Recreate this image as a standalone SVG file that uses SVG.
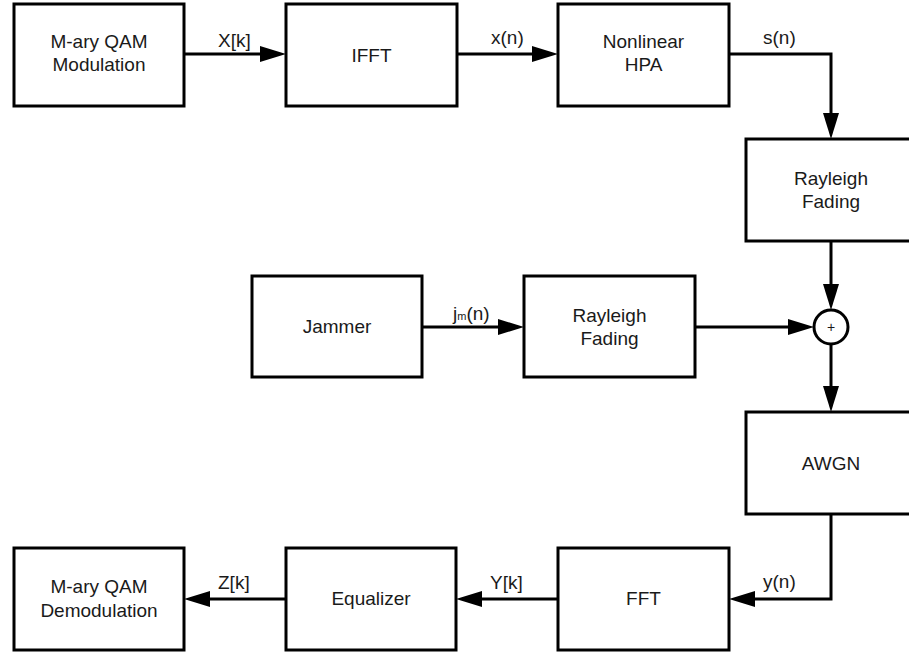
<svg xmlns="http://www.w3.org/2000/svg" width="909" height="655" viewBox="0 0 909 655">
  <defs>
    <marker id="arrow" markerUnits="userSpaceOnUse" markerWidth="26" markerHeight="16" refX="0" refY="8" orient="auto" overflow="visible">
      <path d="M0,0 L26,8 L0,16 Z" fill="#000"/>
    </marker>
    <style>
      .box { fill: #fff; stroke: #000; stroke-width: 3; }
      .t { font-family: "Liberation Sans", Arial, sans-serif; font-size: 19px; fill: #1a1a1a; text-anchor: middle; }
      .lbl { font-family: "Liberation Sans", Arial, sans-serif; font-size: 19px; fill: #1a1a1a; }
      .c { fill: none; stroke: #000; stroke-width: 3; stroke-linejoin: miter; marker-end: url(#arrow); }
    </style>
  </defs>
  <rect width="909" height="655" fill="#fff"/>

  <g id="connectors">
    <path class="c" d="M184,54 H260"/>
    <path class="c" d="M457,54 H532"/>
    <path class="c" d="M729,54 H831 V113"/>
    <path class="c" d="M831,241 V284"/>
    <path class="c" d="M422,327 H498"/>
    <path class="c" d="M695,327 H788"/>
    <path class="c" d="M831,344 V386"/>
    <path class="c" d="M831,514 V599 H755"/>
    <path class="c" d="M558,599 H482"/>
    <path class="c" d="M286,599 H210"/>
    <text class="lbl" x="218" y="47">X[k]</text>
    <text class="lbl" x="491" y="44">x(n)</text>
    <text class="lbl" x="763" y="44">s(n)</text>
    <text class="lbl" x="453" y="320">j<tspan font-size="11">m</tspan>(n)</text>
    <text class="lbl" x="218" y="589">Z[k]</text>
    <text class="lbl" x="490" y="589">Y[k]</text>
    <text class="lbl" x="763" y="588">y(n)</text>
  </g>

  <g id="mod">
    <rect class="box" x="14" y="4" width="170" height="102"/>
    <text class="t" x="99" y="48">M-ary QAM</text>
    <text class="t" x="99" y="71">Modulation</text>
  </g>
  <g id="ifft">
    <rect class="box" x="286" y="4" width="171" height="102"/>
    <text class="t" x="371.5" y="62">IFFT</text>
  </g>
  <g id="hpa">
    <rect class="box" x="558" y="4" width="171" height="102"/>
    <text class="t" x="643.5" y="48">Nonlinear</text>
    <text class="t" x="643.5" y="71">HPA</text>
  </g>
  <g id="rayleigh1">
    <rect class="box" x="746" y="139" width="170" height="102"/>
    <text class="t" x="831" y="185">Rayleigh</text>
    <text class="t" x="831" y="208">Fading</text>
  </g>
  <g id="jammer">
    <rect class="box" x="252" y="276" width="170" height="101"/>
    <text class="t" x="337" y="333">Jammer</text>
  </g>
  <g id="rayleigh2">
    <rect class="box" x="524" y="276" width="171" height="101"/>
    <text class="t" x="609.5" y="322">Rayleigh</text>
    <text class="t" x="609.5" y="345">Fading</text>
  </g>
  <g id="sum">
    <circle cx="831" cy="327" r="17" fill="#fff" stroke="#000" stroke-width="3"/>
    <text x="831" y="332" font-family="'Liberation Sans', Arial, sans-serif" font-size="14" fill="#1a1a1a" text-anchor="middle">+</text>
  </g>
  <g id="awgn">
    <rect class="box" x="746" y="412" width="170" height="102"/>
    <text class="t" x="831" y="470">AWGN</text>
  </g>
  <g id="fft">
    <rect class="box" x="558" y="548" width="171" height="102"/>
    <text class="t" x="643.5" y="605">FFT</text>
  </g>
  <g id="equalizer">
    <rect class="box" x="286" y="548" width="170" height="102"/>
    <text class="t" x="371" y="605">Equalizer</text>
  </g>
  <g id="demod">
    <rect class="box" x="14" y="548" width="170" height="102"/>
    <text class="t" x="99" y="593">M-ary QAM</text>
    <text class="t" x="99" y="617">Demodulation</text>
  </g>
</svg>
